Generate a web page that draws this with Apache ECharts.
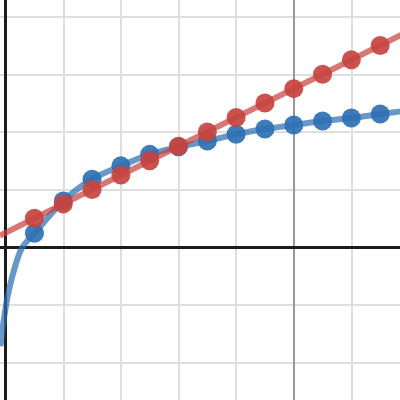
<!DOCTYPE html>
<html>
<head>
<meta charset="utf-8">
<script src="https://cdn.jsdelivr.net/npm/echarts@6/dist/echarts.min.js"></script>
<style>
  html, body { margin: 0; padding: 0; background: #fff; overflow: hidden; }
  body { width: 400px; height: 400px; position: relative; }
  /* chart is bigger than the window so whole grid cells sit at integer values */
  #chart { position: absolute; left: -52.3px; top: -41px; width: 460.8px; height: 460.8px; }
</style>
</head>
<body>
<div id="chart"></div>
<script>
// dots sampled every 0.5 along x
const dotX = [0.5, 1, 1.5, 2, 2.5, 3, 3.5, 4, 4.5, 5, 5.5, 6, 6.5]
const blueDotY = [0.24, 0.8, 1.18, 1.41, 1.61, 1.74, 1.84, 1.96, 2.05, 2.12, 2.19, 2.24, 2.31]
const redDotY = [0.5, 0.75, 1.0, 1.25, 1.5, 1.75, 2.0, 2.25, 2.5, 2.75, 3.0, 3.25, 3.5]

// blue curve (steep part near the y axis + through the dots)
const blueCurveX = [-0.09, -0.04, 0.03, 0.14, 0.28, 0.5, 1, 1.5, 2, 2.5, 3, 3.5, 4, 4.5, 5, 5.5, 6, 6.5, 6.9]
const blueCurveY = [-1.72, -1.32, -0.88, -0.42, -0.02, 0.24, 0.8, 1.18, 1.41, 1.61, 1.74, 1.84, 1.96, 2.05, 2.12, 2.19, 2.24, 2.31, 2.36]

// red straight line, edge to edge
const redLineX = [-0.1, 6.9]
const redLineY = [0.2, 3.7]

const BLUE = '#2d70b3'
const RED = '#c74440'

const pairs = (xs, ys) => xs.map((x, i) => [x, ys[i]])

const chart = echarts.init(document.getElementById('chart'), null, { renderer: 'canvas' })

// gridlines at -1..7, the one at x=5 is darker
const xGridColors = ['#dedede', '#dedede', '#dedede', '#dedede', '#dedede', '#dedede', '#999999', '#dedede', '#dedede']

chart.setOption({
  animation: false,
  backgroundColor: '#fff',
  grid: { left: 0, right: 0, top: 0, bottom: 0, containLabel: false },
  xAxis: {
    type: 'value',
    min: -1,
    max: 7,
    interval: 1,
    axisLine: { show: true, onZero: true, lineStyle: { color: '#1c1c1c', width: 3 } },
    axisTick: { show: false },
    axisLabel: { show: false },
    splitLine: { show: true, lineStyle: { color: xGridColors, width: 2 } },
  },
  yAxis: {
    type: 'value',
    min: -3,
    max: 5,
    interval: 1,
    axisLine: { show: true, onZero: true, lineStyle: { color: '#1c1c1c', width: 3 } },
    axisTick: { show: false },
    axisLabel: { show: false },
    splitLine: { show: true, lineStyle: { color: '#dedede', width: 2 } },
  },
  series: [
    {
      type: 'line',
      data: pairs(blueCurveX, blueCurveY),
      smooth: 0.3,
      showSymbol: false,
      lineStyle: { color: BLUE, width: 6, opacity: 0.72 },
      z: 2,
    },
    {
      type: 'scatter',
      data: pairs(dotX, blueDotY),
      symbolSize: 19,
      itemStyle: { color: BLUE, opacity: 0.92 },
      z: 3,
    },
    {
      type: 'line',
      data: pairs(redLineX, redLineY),
      showSymbol: false,
      lineStyle: { color: RED, width: 6, opacity: 0.72 },
      z: 4,
    },
    {
      type: 'scatter',
      data: pairs(dotX, redDotY),
      symbolSize: 19,
      itemStyle: { color: RED, opacity: 0.92 },
      z: 5,
    },
  ],
})
</script>
</body>
</html>
